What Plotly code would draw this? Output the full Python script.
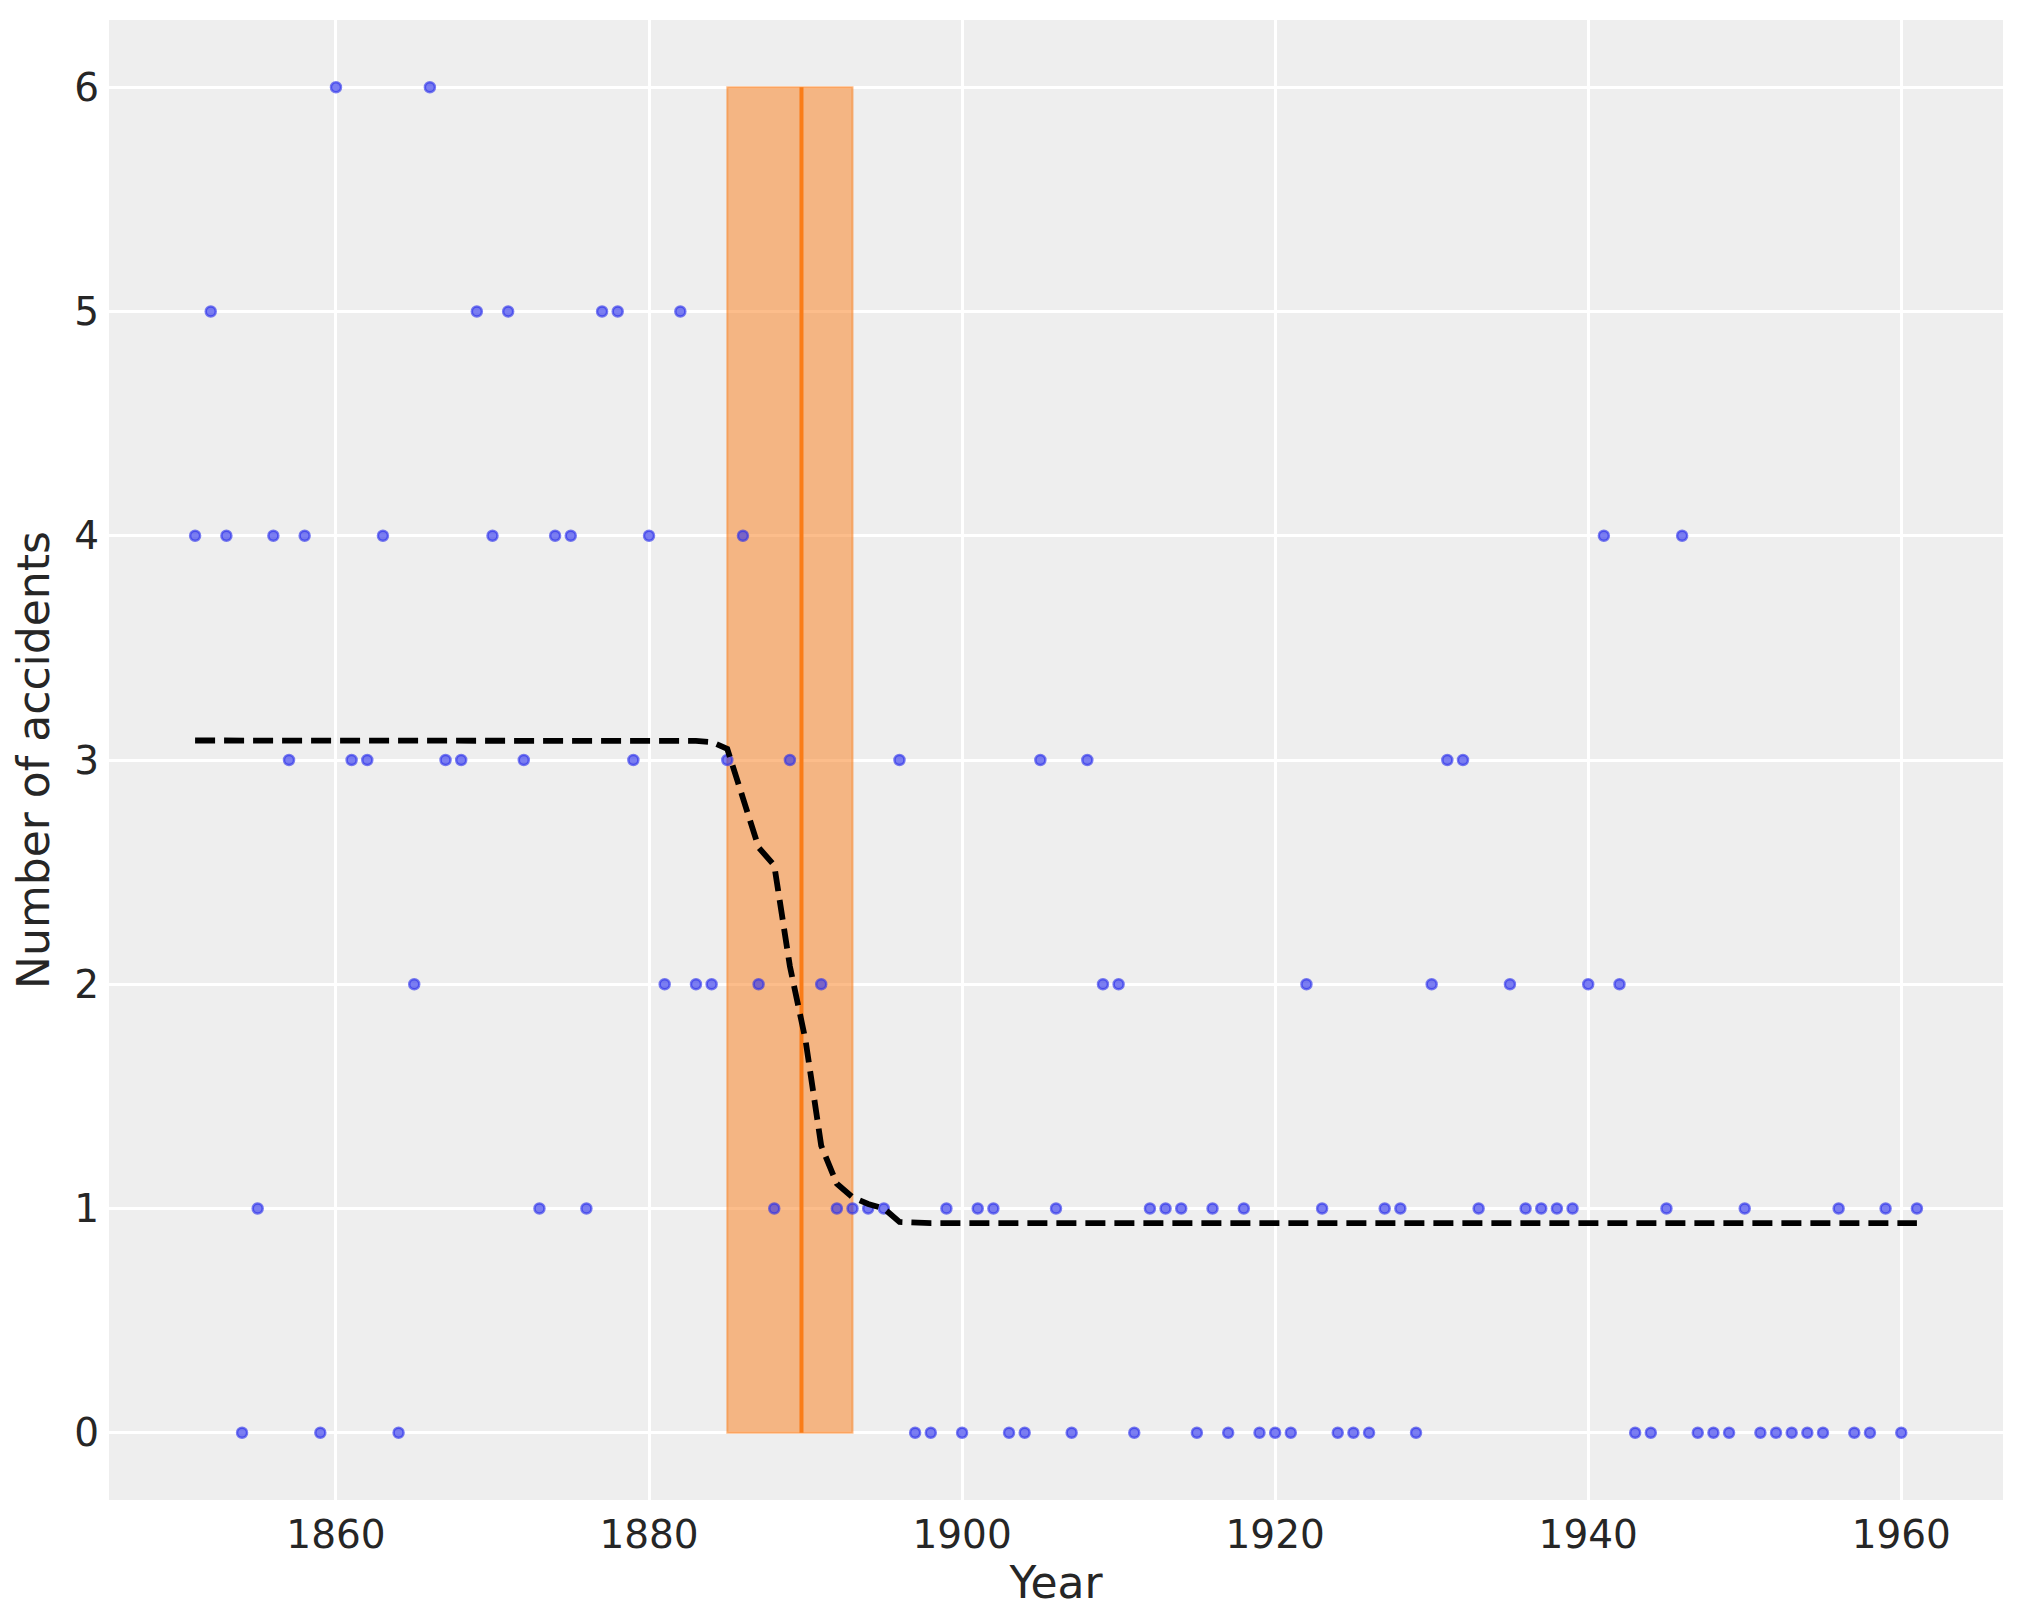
import numpy as np
import plotly.graph_objects as go

# coal mining disasters per year (two missing years)
years = list(range(1851, 1962))
accidents = [4, 5, 4, 0, 1, 4, 3, 4, 0, 6, 3, 3, 4, 0, 2, 6, 3, 3, 5, 4, 5, 3, 1, 4, 4, 1, 5, 5, 3, 4,
             2, 5, 2, 2, 3, 4, 2, 1, 3, np.nan, 2, 1, 1, 1, 1, 3, 0, 0, 1, 0, 1, 1, 0, 0, 3, 1, 0, 3, 2, 2,
             0, 1, 1, 1, 0, 1, 0, 1, 0, 0, 0, 2, 1, 0, 0, 0, 1, 1, 0, 2, 3, 3, 1, np.nan, 2, 1, 1, 1, 1, 2,
             4, 2, 0, 0, 1, 4, 0, 0, 0, 1, 0, 0, 0, 0, 0, 1, 0, 0, 1, 0, 1]

# posterior mean of the accident rate, read per year
rate_mean = [3.087] * 32 + [3.085, 3.08, 3.05, 2.83, 2.61, 2.53, 2.08, 1.75, 1.28, 1.11, 1.05,
                            1.02, 1.00, 0.94] + [0.935] * 65

switch_mean = 1889.74
switch_hdi = [1885.0, 1893.0]

orange = "#fa7c17"
text_col = "#262626"

fig = go.Figure()

# HDI band of the switchpoint
fig.add_shape(type="rect", xref="x", yref="y",
              x0=switch_hdi[0], x1=switch_hdi[1], y0=min(np.nanmin(accidents), 0), y1=np.nanmax(accidents),
              fillcolor="rgba(250,124,23,0.5)", line=dict(color="rgba(250,124,23,0.5)", width=2),
              layer="between")
fig.add_shape(type="line", xref="x", yref="y",
              x0=switch_mean, x1=switch_mean, y0=0, y1=np.nanmax(accidents),
              line=dict(color=orange, width=4), layer="between")

fig.add_trace(go.Scatter(
    x=years, y=accidents, mode="markers",
    marker=dict(size=10, color="rgba(42,46,236,0.62)", line=dict(color="rgba(42,46,236,0.62)", width=2.5)),
    showlegend=False))

fig.add_trace(go.Scatter(
    x=years, y=rate_mean, mode="lines",
    line=dict(color="black", width=5.8, dash="20px,9px"),
    showlegend=False))

# page body has an 8px margin, so the figure sits 8px in from the screen edge
fig.update_layout(
    width=2007, height=1607,
    paper_bgcolor="white", plot_bgcolor="#eeeeee",
    margin=dict(l=101, r=12, t=12, b=115, autoexpand=False),
    font=dict(family="DejaVu Sans", color=text_col),
    xaxis=dict(
        range=[1845.5, 1966.5], tickvals=[1860, 1880, 1900, 1920, 1940, 1960],
        showgrid=True, gridcolor="white", gridwidth=2.5, zeroline=False, showline=False,
        tickfont=dict(size=39, color=text_col), ticks="", ticklabelstandoff=8, automargin=False,
        title=dict(text="Year", font=dict(size=44, color=text_col), standoff=6)),
    yaxis=dict(
        range=[-0.3, 6.3], tickvals=[0, 1, 2, 3, 4, 5, 6],
        showgrid=True, gridcolor="white", gridwidth=2.5, zeroline=False, showline=False,
        tickfont=dict(size=39, color=text_col), ticks="", ticklabelstandoff=9, automargin=False,
        title=dict(text="Number of accidents", font=dict(size=44, color=text_col), standoff=10)),
)

fig.write_html("out.html")
